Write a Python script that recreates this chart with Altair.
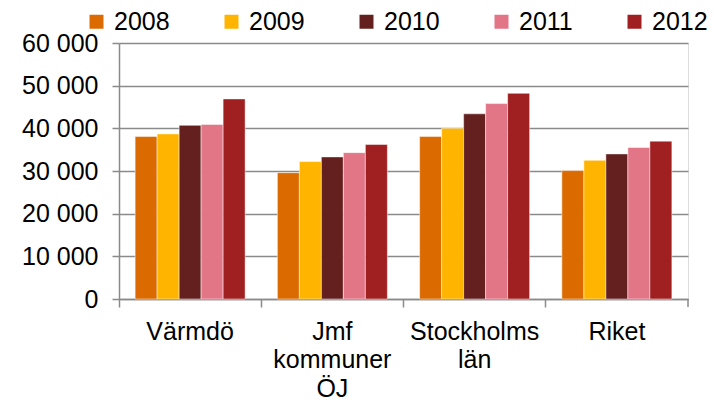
import altair as alt
import pandas as pd

categories = ["Värmdö", "Jmf kommuner ÖJ", "Stockholms län", "Riket"]
years = ["2008", "2009", "2010", "2011", "2012"]
values = {
    "2008": [38100, 29600, 38100, 30100],
    "2009": [38700, 32200, 40000, 32500],
    "2010": [40700, 33300, 43400, 34000],
    "2011": [40900, 34300, 45800, 35500],
    "2012": [46900, 36200, 48200, 37000],
}
colors = ["#DB6B00", "#FFB500", "#63201F", "#E27586", "#A01F21"]

rows = []
for y in years:
    for c, v in zip(categories, values[y]):
        rows.append({"kategori": c, "år": y, "värde": v})
df = pd.DataFrame(rows)

FONT = "Liberation Sans"
W, H = 569, 256

bars = alt.Chart(df).mark_bar(stroke="white", strokeWidth=0.6, strokeOpacity=0.8).encode(
    x=alt.X(
        "kategori:N",
        sort=categories,
        title=None,
        scale=alt.Scale(paddingInner=0, paddingOuter=0),
        axis=alt.Axis(
            bandPosition=0,
            labelAngle=0,
            labelFont=FONT,
            labelFontSize=25,
            labelColor="black",
            labelLineHeight=28.5,
            labelPadding=12,
            labelBaseline="top",
            labelExpr="split(datum.value, ' ')",
            tickSize=8,
            tickColor="#8a8a8a",
            tickWidth=1.5,
            domainColor="#8a8a8a",
            domainWidth=1.5,
            grid=False,
        ),
    ),
    xOffset=alt.XOffset(
        "år:N",
        sort=years,
        scale=alt.Scale(paddingInner=0, paddingOuter=0.733),
    ),
    y=alt.Y(
        "värde:Q",
        title=None,
        scale=alt.Scale(domain=[0, 60000], nice=False),
        axis=alt.Axis(
            values=[0, 10000, 20000, 30000, 40000, 50000, 60000],
            labelExpr="replace(format(datum.value, ','), ',', ' ')",
            labelFont=FONT,
            labelFontSize=25,
            labelColor="black",
            labelPadding=14,
            tickSize=7,
            tickColor="#8a8a8a",
            tickWidth=1.5,
            domainColor="#8a8a8a",
            domainWidth=1.5,
            gridColor="#8a8a8a",
            gridWidth=1.5,
        ),
    ),
    color=alt.Color(
        "år:N",
        sort=years,
        scale=alt.Scale(domain=years, range=colors),
        legend=alt.Legend(
            title=None,
            orient="none",
            direction="horizontal",
            legendX=-35,
            legendY=-34,
            symbolType="square",
            symbolSize=196,
            symbolStrokeWidth=0,
            symbolOpacity=1,
            labelFont=FONT,
            labelFontSize=25,
            labelColor="black",
            labelOffset=5,
            columnPadding=49,
            padding=0,
        ),
    ),
)

end_tick = alt.Chart(pd.DataFrame({"a": [0]})).mark_rule(color="#8a8a8a", strokeWidth=1.5).encode(
    x=alt.value(W), y=alt.value(H), y2=alt.value(H + 8)
)

chart = alt.layer(bars, end_tick).properties(
    width=W,
    height=H,
    autosize=alt.AutoSizeParams(type="none"),
    padding={"left": 111, "top": 35, "right": 21, "bottom": 102},
).configure_view(stroke=None).configure(background="white")

chart.save("out.html", embed_options={"renderer": "svg", "actions": False})
